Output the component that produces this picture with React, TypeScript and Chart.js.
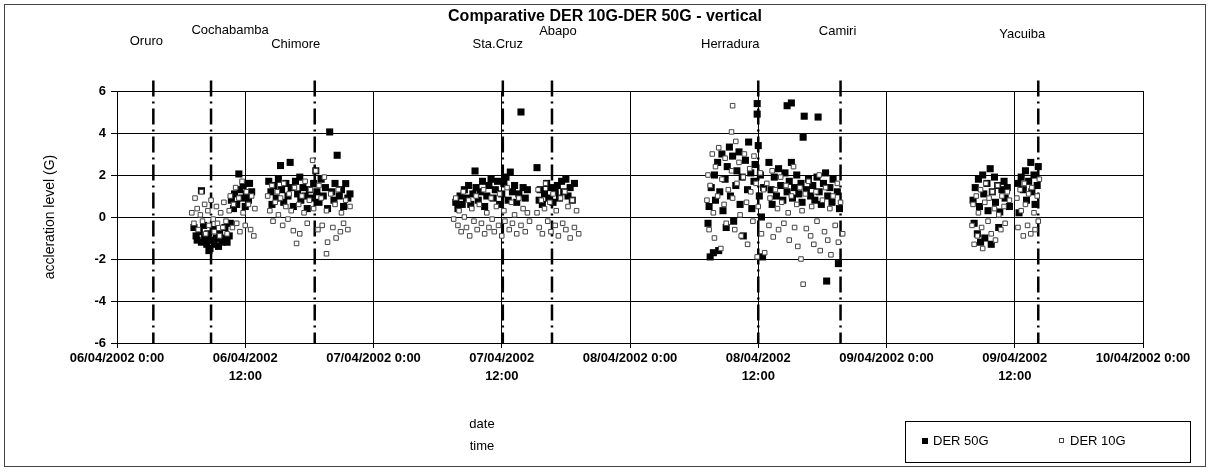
import { useEffect, useRef } from "react";
import { Chart, registerables } from "chart.js";

Chart.register(...registerables);

// ---------------- DATA ----------------
const chartTitle = "Comparative DER 10G-DER 50G - vertical";
const yAxisTitle = "accleration level (G)";
const xAxisTitle = ["date", "time"];

// x = hours after 06/04/2002 0:00
const tickLabels: (string | string[])[] = [
  "06/04/2002 0:00",
  ["06/04/2002", "12:00"],
  "07/04/2002 0:00",
  ["07/04/2002", "12:00"],
  "08/04/2002 0:00",
  ["08/04/2002", "12:00"],
  "09/04/2002 0:00",
  ["09/04/2002", "12:00"],
  "10/04/2002 0:00",
];

const locationNames = ["Oruro", "Cochabamba", "Chimore", "Sta.Cruz", "Abapo", "Herradura", "Camiri", "Yacuiba"];
const locationHours = [3.4, 8.8, 18.5, 36.1, 40.7, 60.0, 67.7, 86.2];

const seriesNames = ["DER 50G", "DER 10G"];

const der50G: [number, number][] = [
  // Cochabamba
  [7.2, -0.5], [7.4, -0.9], [7.5, -1.1], [7.7, -0.7], [7.9, 1.25], [7.9, -1.2], [8.1, -0.4], [8.2, -1.0],
  [8.4, -1.3], [8.5, -0.8], [8.6, -1.6], [8.7, -1.5], [8.8, -1.1], [9.0, -0.6], [9.1, -1.3], [9.3, -1.0],
  [9.5, -1.4], [9.6, -0.8], [9.8, -1.2], [10.0, -1.0], [10.1, -0.5], [10.3, -1.2], [10.5, -0.9], [10.6, -0.3],
  [10.7, 0.8], [10.9, 0.4], [11.0, 1.1], [11.2, 0.6], [11.4, 2.05], [11.5, 1.3], [11.7, 0.9], [11.8, 1.5],
  [12.0, 0.5], [12.1, 1.1], [12.3, 0.8], [12.4, 1.6], [12.6, 1.2],
  // Chimore
  [14.2, 1.7], [14.4, 1.2], [14.5, 0.6], [14.7, 1.5], [14.9, 0.9], [15.1, 1.8], [15.3, 2.45], [15.4, 1.3],
  [15.6, 0.7], [15.8, 1.6], [16.0, 1.0], [16.2, 2.6], [16.3, 1.4], [16.5, 0.5], [16.7, 1.7], [16.9, 1.1],
  [17.1, 1.9], [17.2, 0.8], [17.4, 1.4], [17.6, 1.0], [17.8, 0.4], [18.0, 1.3], [18.2, 0.9], [18.4, 1.6],
  [18.6, 2.2], [18.7, 1.2], [18.9, 0.7], [19.1, 1.8], [19.3, 1.0], [19.5, 1.4], [19.7, 0.4], [19.9, 4.05],
  [20.1, 1.2], [20.3, 0.8], [20.4, 1.6], [20.6, 2.94], [20.8, 1.0], [21.0, 1.3], [21.2, 0.5], [21.4, 1.59],
  [21.6, 0.9], [21.8, 1.1],
  // Sta.Cruz
  [31.7, 0.7], [31.9, 0.4], [32.1, 1.0], [32.3, 0.6], [32.5, 1.3], [32.7, 0.9], [32.9, 1.5], [33.1, 0.6],
  [33.3, 1.1], [33.5, 2.19], [33.6, 1.4], [33.8, 0.8], [34.0, 1.2], [34.2, 1.7], [34.4, 0.5], [34.6, 1.0],
  [34.8, 1.5], [35.0, 1.8], [35.2, 0.9], [35.4, 1.3], [35.6, 1.7], [35.8, 0.6], [36.0, 1.1], [36.2, 1.6],
  [36.4, 1.9], [36.6, 0.8], [36.8, 2.14], [37.0, 1.2], [37.2, 1.5], [37.4, 0.7], [37.6, 1.1], [37.8, 5.0],
  [38.0, 1.4], [38.2, 0.9], [38.4, 1.3],
  // Abapo
  [39.3, 2.35], [39.5, 0.8], [39.6, 1.3], [39.8, 0.6], [40.0, 1.1], [40.2, 1.6], [40.4, 0.9], [40.6, 1.4],
  [40.8, 0.7], [41.0, 1.2], [41.2, 1.5], [41.4, 0.9], [41.6, 1.7], [41.8, 1.2], [42.0, 1.8], [42.2, 1.0],
  [42.4, 1.4], [42.6, 0.8], [42.8, 1.6],
  // Herradura
  [55.3, -0.3], [55.4, 0.5], [55.5, -1.9], [55.6, 1.4], [55.8, -1.7], [55.9, 2.0], [56.0, 0.8], [56.2, 2.6],
  [56.3, -1.6], [56.4, 1.2], [56.6, 3.0], [56.7, 0.3], [56.9, 1.8], [57.0, -0.5], [57.1, 2.4], [57.3, 3.33],
  [57.4, 1.0], [57.6, 2.9], [57.7, -0.2], [57.9, 1.5], [58.0, 2.2], [58.2, 3.1], [58.3, 0.6], [58.5, 1.9],
  [58.6, -0.9], [58.8, 2.7], [59.0, 1.3], [59.1, 3.57], [59.3, 2.1], [59.4, 0.4], [59.6, 1.7], [59.7, 2.5],
  [59.9, 5.4], [59.9, 4.9], [60.0, 3.4], [60.1, 1.0], [60.2, 2.0], [60.3, 0.0], [60.4, -1.9], [60.5, 1.4],
  // Camiri
  [61.0, 2.6], [61.2, 1.3], [61.3, 0.6], [61.5, 1.9], [61.7, 1.0], [61.9, 2.3], [62.1, 1.5], [62.3, 0.8],
  [62.5, 2.1], [62.7, 5.3], [62.7, 1.2], [62.9, 1.7], [63.1, 5.43], [63.1, 2.6], [63.2, 0.9], [63.4, 1.4],
  [63.6, 2.0], [63.8, 1.1], [64.0, 1.6], [64.1, 0.7], [64.2, 3.8], [64.3, 4.8], [64.5, 1.3], [64.7, 1.8],
  [64.9, 1.0], [65.1, 1.5], [65.3, 0.8], [65.5, 1.9], [65.6, 4.76], [65.7, 1.2], [65.9, 0.6], [66.1, 1.6],
  [66.3, 2.1], [66.4, -3.05], [66.5, 1.0], [66.7, 1.4], [66.9, 0.7], [67.0, 1.8], [67.4, 1.2], [67.5, -2.22],
  [67.6, 0.4],
  // Yacuiba (before)
  [80.1, 0.8], [80.2, -0.3], [80.3, 1.4], [80.5, -0.8], [80.6, 1.8], [80.7, 0.5], [80.8, -1.2], [81.0, 2.0],
  [81.1, 1.1], [81.2, -1.0], [81.4, 1.6], [81.5, 0.3], [81.7, 2.3], [81.8, -1.3], [81.9, 1.2], [82.1, 1.9],
  [82.2, 0.7], [82.4, 1.5], [82.5, -0.5], [82.6, 0.24], [82.8, 1.3], [83.0, 1.7], [83.1, 0.9], [83.3, 1.4],
  [83.5, 0.5],
  // Yacuiba
  [84.3, 1.6], [84.4, 0.2], [84.6, 1.9], [84.8, 1.3], [85.0, 2.2], [85.1, 0.8], [85.3, 1.7], [85.5, 2.6],
  [85.6, 1.2], [85.8, 2.0], [85.9, 0.6], [86.1, 1.5], [86.2, 2.4],
];

const der10G: [number, number][] = [
  // Cochabamba
  [7.0, 0.2], [7.2, -0.3], [7.3, 0.9], [7.5, 0.4], [7.6, -0.6], [7.8, 0.1], [7.9, 1.2], [8.0, -0.2],
  [8.2, 0.6], [8.3, -0.8], [8.5, 0.3], [8.6, -0.4], [8.8, 0.8], [9.0, -0.1], [9.1, -0.7], [9.3, 0.5],
  [9.4, -0.3], [9.6, -0.9], [9.7, 0.2], [9.9, -0.5], [10.0, 0.7], [10.2, -0.2], [10.3, -0.8], [10.5, 0.3],
  [10.6, 1.0], [10.8, -0.5], [10.9, 0.6], [11.1, 1.4], [11.2, -0.3], [11.4, 0.9], [11.5, -0.7], [11.7, 1.7],
  [11.8, 0.2], [12.0, -0.4], [12.1, 1.2], [12.3, 0.6], [12.5, -0.6], [12.6, 1.0], [12.8, -0.9], [12.9, 0.4],
  // Chimore
  [14.1, 1.0], [14.3, 0.3], [14.5, 1.5], [14.6, -0.2], [14.8, 0.7], [15.0, 1.2], [15.1, 0.1], [15.3, 0.9],
  [15.5, -0.4], [15.6, 1.6], [15.8, 0.5], [16.0, -0.1], [16.1, 1.1], [16.3, 0.3], [16.5, -0.65], [16.6, 1.4],
  [16.8, -1.26], [17.0, 0.6], [17.1, -0.8], [17.3, 1.0], [17.5, 0.2], [17.6, 1.7], [17.8, -0.3], [18.0, 0.8],
  [18.1, 1.3], [18.3, 2.7], [18.4, 0.4], [18.6, 2.2], [18.8, -0.6], [18.9, 1.5], [19.1, 0.9], [19.2, -0.4],
  [19.4, 1.9], [19.6, -1.75], [19.6, 0.3], [19.7, -1.2], [20.0, 1.1], [20.2, -0.5], [20.4, 0.6], [20.5, -1.0],
  [20.7, 1.3], [20.9, -0.7], [21.0, 0.2], [21.2, -0.3], [21.4, 0.8], [21.6, -0.6], [21.8, 0.5],
  // Sta.Cruz
  [31.5, -0.1], [31.7, 0.9], [31.9, -0.4], [32.0, 0.3], [32.2, -0.7], [32.4, 1.2], [32.5, 0.0], [32.7, -0.5],
  [32.9, 0.8], [33.0, -0.9], [33.2, 0.4], [33.4, -0.2], [33.6, 1.0], [33.7, -0.6], [33.9, 0.6], [34.1, -0.3],
  [34.3, 1.3], [34.4, -0.8], [34.6, 0.2], [34.8, -0.5], [35.0, 0.9], [35.1, -0.1], [35.3, -0.7], [35.5, 0.5],
  [35.7, -0.4], [35.8, 1.1], [36.0, -0.9], [36.2, 0.3], [36.3, -0.2], [36.5, 1.4], [36.7, -0.6], [36.9, 0.7],
  [37.0, -0.3], [37.2, 0.1], [37.4, -0.8], [37.6, 0.9], [37.8, -0.4], [38.0, 0.4], [38.2, -0.7], [38.4, 0.2],
  [38.6, -0.2],
  // Abapo
  [39.3, 0.2], [39.4, 1.3], [39.5, -0.5], [39.7, 0.8], [39.8, -0.8], [40.0, 0.4], [40.1, 1.6], [40.3, -0.2],
  [40.5, 0.7], [40.6, -0.7], [40.8, 1.1], [41.0, -0.4], [41.1, 0.3], [41.3, -0.9], [41.5, 0.9], [41.7, -0.3],
  [41.9, 1.2], [42.0, -0.6], [42.2, 0.5], [42.4, -1.0], [42.6, 0.8], [42.8, -0.5], [43.0, 0.3], [43.2, -0.8],
  // Herradura
  [55.2, 0.8], [55.3, 2.0], [55.4, -0.6], [55.5, 1.5], [55.7, 3.0], [55.8, 0.2], [55.9, -1.0], [56.0, 2.4],
  [56.2, 1.0], [56.3, 3.3], [56.5, -1.5], [56.6, 1.8], [56.8, 0.6], [56.9, 2.8], [57.0, -0.3], [57.2, 1.3],
  [57.6, 5.3], [57.5, 4.05], [57.5, 2.2], [57.6, 0.9], [57.8, -0.6], [57.9, 3.6], [58.0, 1.6], [58.2, 2.6],
  [58.3, 0.1], [58.4, -0.9], [58.6, 1.9], [58.7, 3.0], [58.9, 0.7], [59.0, -1.3], [59.2, 2.3], [59.3, 1.2],
  [59.5, -0.2], [59.6, 2.9], [59.8, 1.6], [59.9, -1.9], [60.0, 0.5], [60.2, 2.1], [60.3, -0.8], [60.5, 1.3],
  [60.6, -1.7],
  // Camiri
  [60.8, 1.6], [61.0, -0.4], [61.1, 0.9], [61.3, 2.2], [61.4, -0.95], [61.6, 1.3], [61.8, 0.4], [61.9, -0.6],
  [62.1, 1.9], [62.2, 0.7], [62.4, -0.3], [62.6, 1.5], [62.8, 0.2], [62.9, -1.1], [63.1, 1.0], [63.3, 2.4],
  [63.4, -0.5], [63.6, 0.6], [63.7, -1.4], [63.9, 1.4], [64.0, -2.0], [64.1, 0.3], [64.2, -3.2], [64.4, 1.1],
  [64.5, -0.55], [64.7, 1.7], [64.9, -0.9], [65.0, 0.5], [65.2, -1.3], [65.4, 1.2], [65.5, -0.2], [65.7, 2.0],
  [65.8, -1.6], [66.0, 0.8], [66.2, -0.7], [66.3, 1.4], [66.5, -1.1], [66.7, 0.4], [66.8, -1.8], [67.0, 1.0],
  [67.2, -0.4], [67.4, 1.6], [67.5, -1.2], [67.7, 0.7], [67.9, -0.8],
  // Yacuiba (before)
  [80.0, -0.4], [80.1, 0.6], [80.2, -1.3], [80.4, 1.0], [80.5, -0.9], [80.6, 0.2], [80.8, 1.3], [80.9, -0.5],
  [81.0, -1.5], [81.2, 0.7], [81.3, 1.6], [81.5, -0.2], [81.6, 0.9], [81.8, -0.8], [81.9, 1.2], [82.1, 0.4],
  [82.2, -1.1], [82.4, 1.5], [82.5, 0.1], [82.7, -0.6], [82.8, 1.0], [83.0, 0.5], [83.1, -0.3], [83.3, 1.2],
  [83.5, 0.8],
  // Yacuiba
  [84.2, 0.9], [84.3, -0.5], [84.5, 1.3], [84.6, 0.3], [84.8, -0.9], [84.9, 1.6], [85.0, 0.6], [85.2, -0.4],
  [85.3, 1.1], [85.5, -0.8], [85.6, 1.4], [85.8, 0.2], [85.9, -0.6], [86.1, 1.0], [86.2, -0.2], [86.3, 1.8],
];

// ---------------- STYLE / LAYOUT ----------------
const FONT = '"Liberation Sans", Arial, Helvetica, sans-serif';
const W = 1210;
const H = 472;
// per-label placement relative to its marker line (px offset, px top)
const LABEL_DX = [-7, 19, -19, -5, 6, -28, -3, -16];
const LABEL_Y = [41, 30, 44, 44, 31, 44, 31, 34];
const LINE_TOP = 6.5;
const LINE_BOTTOM = -6;

const overlayPlugin = {
  id: "overlay",
  afterDraw(chart: any) {
    const { ctx } = chart;
    const x = chart.scales.x;
    const y = chart.scales.y;
    ctx.save();
    ctx.fillStyle = "#000";
    ctx.textAlign = "center";
    ctx.textBaseline = "middle";

    ctx.font = `bold 16px ${FONT}`;
    ctx.fillText(chartTitle, 605, 17);

    ctx.font = `13px ${FONT}`;
    locationNames.forEach((n, i) => {
      ctx.fillText(n, x.getPixelForValue(locationHours[i]) + LABEL_DX[i], LABEL_Y[i]);
    });

    ctx.font = `14px ${FONT}`;
    ctx.save();
    ctx.translate(50, (y.top + y.bottom) / 2);
    ctx.rotate(-Math.PI / 2);
    ctx.fillText(yAxisTitle, 0, 0);
    ctx.restore();

    ctx.font = `13px ${FONT}`;
    ctx.fillText(xAxisTitle[0], 482, 424);
    ctx.fillText(xAxisTitle[1], 482, 446);

    // legend
    ctx.strokeStyle = "#000";
    ctx.lineWidth = 1;
    ctx.strokeRect(905.5, 421.5, 285, 41);
    ctx.textAlign = "left";
    ctx.fillRect(922, 438, 6, 6);
    ctx.fillText(seriesNames[0], 933, 441);
    ctx.fillStyle = "#fff";
    ctx.fillRect(1059, 438, 5, 5);
    ctx.strokeStyle = "#444";
    ctx.strokeRect(1059.5, 438.5, 4, 4);
    ctx.fillStyle = "#000";
    ctx.fillText(seriesNames[1], 1070, 441);

    // outer frame
    ctx.strokeStyle = "#444";
    ctx.lineWidth = 1;
    ctx.strokeRect(4.5, 4.5, 1201, 462);
    ctx.restore();
  },
};

export default function App() {
  const ref = useRef<HTMLCanvasElement | null>(null);

  useEffect(() => {
    document.body.style.margin = "0";
    document.body.style.overflow = "hidden";
    const canvas = ref.current;
    if (!canvas) return;

    const lineSets = locationHours.map((h, i) => ({
      type: "scatter" as const,
      label: locationNames[i],
      data: [
        { x: h, y: LINE_TOP },
        { x: h, y: LINE_BOTTOM },
      ],
      showLine: true,
      borderColor: "#000",
      borderWidth: 2.5,
      borderDash: [16, 5, 2, 5],
      pointRadius: 0,
      clip: false as any,
      order: 2,
    }));

    const chart = new Chart(canvas, {
      type: "scatter",
      data: {
        datasets: [
          {
            label: seriesNames[1],
            data: der10G.map(([a, b]) => ({ x: a, y: b })),
            pointStyle: "rect",
            pointRadius: 3.2,
            backgroundColor: "#fff",
            borderColor: "#444",
            borderWidth: 1,
            order: 0,
          },
          {
            label: seriesNames[0],
            data: der50G.map(([a, b]) => ({ x: a, y: b })),
            pointStyle: "rect",
            pointRadius: 5,
            backgroundColor: "#000",
            borderColor: "#000",
            borderWidth: 0,
            order: 1,
          },
          ...lineSets,
        ] as any,
      },
      options: {
        responsive: false,
        animation: false,
        devicePixelRatio: 1,
        layout: { padding: { top: 91, right: 67, bottom: 0, left: 0 } },
        plugins: {
          legend: { display: false },
          tooltip: { enabled: false },
          title: { display: false },
        },
        scales: {
          x: {
            type: "linear",
            min: 0,
            max: 96,
            afterFit: (s: any) => {
              s.height = H - 343;
            },
            ticks: {
              stepSize: 12,
              color: "#000",
              font: { family: FONT, size: 13, weight: "bold", lineHeight: 1.35 },
              padding: 2,
              maxRotation: 0,
              autoSkip: false,
              callback: (_v: any, i: number) => tickLabels[i],
            },
            grid: { color: "#000", lineWidth: 1, tickLength: 5, drawTicks: true },
            border: { color: "#000", width: 1 },
          },
          y: {
            type: "linear",
            min: -6,
            max: 6,
            afterFit: (s: any) => {
              s.width = 117;
            },
            ticks: {
              stepSize: 2,
              color: "#000",
              font: { family: FONT, size: 13, weight: "bold" },
              padding: 5,
            },
            grid: { color: "#000", lineWidth: 1, tickLength: 6, drawTicks: true },
            border: { color: "#000", width: 1 },
          },
        },
      },
      plugins: [overlayPlugin],
    });

    return () => chart.destroy();
  }, []);

  return (
    <div style={{ width: W, height: H, background: "#fff" }}>
      <canvas ref={ref} width={W} height={H} style={{ display: "block" }} />
    </div>
  );
}
